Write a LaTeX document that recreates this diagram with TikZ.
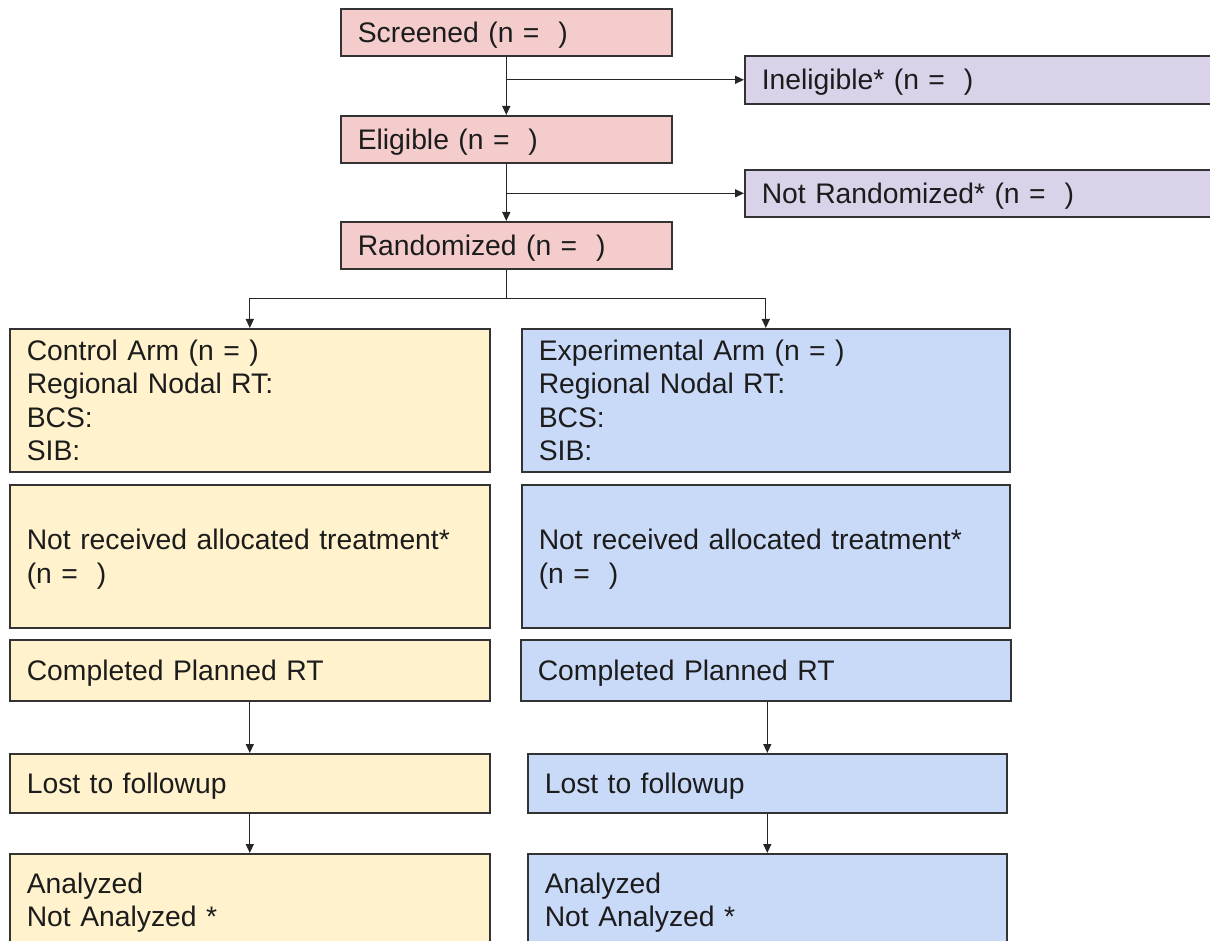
\documentclass[tikz,border=0pt]{standalone}
\usepackage{fontspec}
\setmainfont{Liberation Sans}
\usetikzlibrary{arrows.meta,calc}
\definecolor{pinkfill}{HTML}{F4CCCC}
\definecolor{purplefill}{HTML}{D9D2E9}
\definecolor{yellowfill}{HTML}{FFF2CC}
\definecolor{bluefill}{HTML}{C9DAF8}
\definecolor{edge}{HTML}{333333}
\definecolor{ink}{HTML}{1C1C1C}
\tikzset{
  box/.style args={#1/#2/#3}{draw=edge, line width=1.6pt, fill=#1, anchor=north west,
    minimum width=#2pt, minimum height=#3pt, text width=#2pt-34pt, inner xsep=17pt, inner ysep=0pt,
    align=left, text=ink, font=\fontsize{28.3}{33.5}\selectfont,
    execute at begin node={\rule{0pt}{30pt}},
    execute at end node={\rule[-10pt]{0pt}{10pt}}},
  conn/.style={draw=black!85, line width=1.3pt, -{Triangle[length=9pt,width=8pt]}},
  plain/.style={draw=black!85, line width=1.3pt}
}
\begin{document}
\begin{tikzpicture}[x=1pt,y=-1pt]
\useasboundingbox (0,0) rectangle (1210,941);
\clip (0,0) rectangle (1210,941);
% top column
\node[box=pinkfill/331/47] (scr) at (340,8) {Screened (n =\ \ )};
\node[box=pinkfill/331/47] (elig) at (340,115) {Eligible (n =\ \ )};
\node[box=pinkfill/331/47] (rand) at (340,221) {Randomized (n =\ \ )};
\node[box=purplefill/480/48] (inel) at (744,55) {Ineligible* (n =\ \ )};
\node[box=purplefill/480/47] (notr) at (744,169) {Not Randomized* (n =\ \ )};
% arms
\node[box=yellowfill/480/143] (ctrl) at (9,328) {Control Arm (n = )\\Regional Nodal RT:\\BCS:\\SIB:};
\node[box=bluefill/488/143] (exp) at (521,328) {Experimental Arm (n = )\\Regional Nodal RT:\\BCS:\\SIB:};
\node[box=yellowfill/480/143] (nrc) at (9,484) {Not received allocated treatment*\\(n =\ \ )};
\node[box=bluefill/488/143] (nre) at (521,484) {Not received allocated treatment*\\(n =\ \ )};
\node[box=yellowfill/480/61] (cpc) at (9,639) {Completed Planned RT};
\node[box=bluefill/490/61] (cpe) at (520,639) {Completed Planned RT};
\node[box=yellowfill/480/59] (lfc) at (9,753) {Lost to followup};
\node[box=bluefill/479/59] (lfe) at (527,753) {Lost to followup};
\node[box=yellowfill/480/92] (anc) at (9,853) {Analyzed\\Not Analyzed *};
\node[box=bluefill/479/92] (ane) at (527,853) {Analyzed\\Not Analyzed *};
% connectors
\coordinate (j1) at (scr.south |- inel.west);
\coordinate (j2) at (elig.south |- notr.west);
\coordinate (j3) at ($(rand.south)+(0,29)$);
\draw[conn] (scr.south) -- (elig.north);
\draw[conn] (j1) -- (inel.west);
\draw[conn] (elig.south) -- (rand.north);
\draw[conn] (j2) -- (notr.west);
\draw[plain] (rand.south) -- (j3);
\draw[conn] (j3) -| (ctrl.north);
\draw[conn] (j3) -| (exp.north);
\draw[conn] (cpc.south) -- (lfc.north);
\draw[conn] (cpe.south -| lfe.north) -- (lfe.north);
\draw[conn] (lfc.south) -- (anc.north);
\draw[conn] (lfe.south) -- (ane.north);
\end{tikzpicture}
\end{document}
